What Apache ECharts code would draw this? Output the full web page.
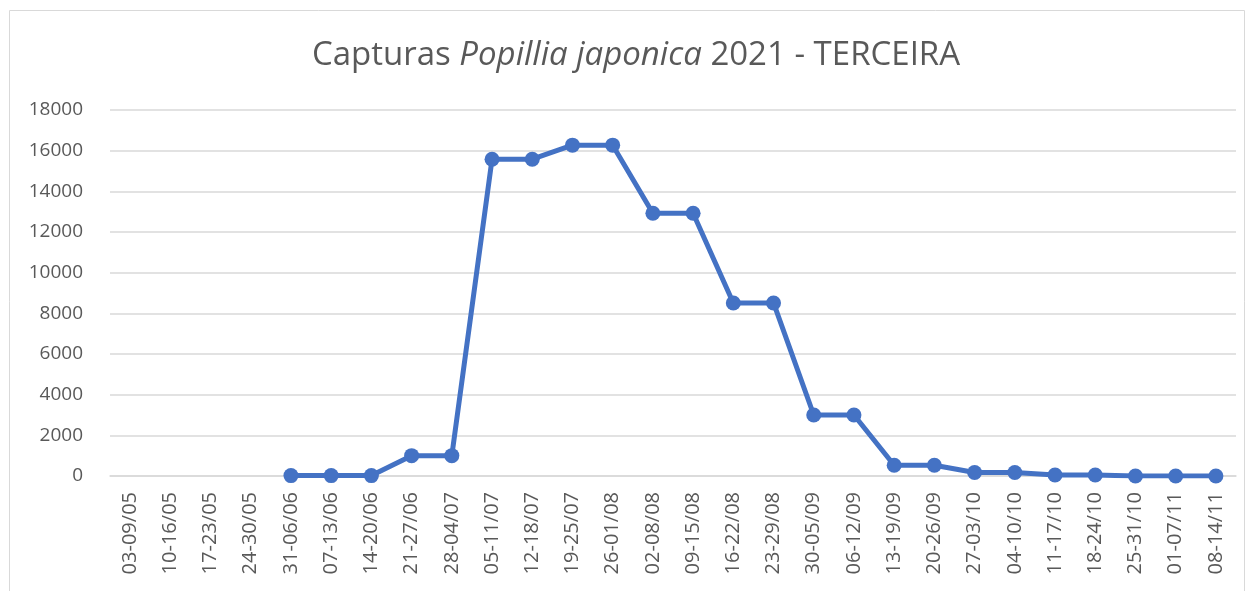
<!DOCTYPE html>
<html>
<head>
<meta charset="utf-8">
<script src="https://cdn.jsdelivr.net/npm/echarts@6/dist/echarts.min.js"></script>
<style>
  html, body { margin: 0; padding: 0; background: #fff; }
  #chart { width: 1253px; height: 591px; }
</style>
</head>
<body>
<div id="chart"></div>
<script>
const weeks = [
  "03-09/05", "10-16/05", "17-23/05", "24-30/05", "31-06/06", "07-13/06",
  "14-20/06", "21-27/06", "28-04/07", "05-11/07", "12-18/07", "19-25/07",
  "26-01/08", "02-08/08", "09-15/08", "16-22/08", "23-29/08", "30-05/09",
  "06-12/09", "13-19/09", "20-26/09", "27-03/10", "04-10/10", "11-17/10",
  "18-24/10", "25-31/10", "01-07/11", "08-14/11"
];
const captures = [
  null, null, null, null, 20, 20,
  20, 1000, 1000, 15580, 15580, 16270,
  16270, 12920, 12920, 8510, 8510, 3000,
  3000, 530, 530, 170, 170, 50,
  50, 0, 0, 0
];
const yTicks = [0, 2000, 4000, 6000, 8000, 10000, 12000, 14000, 16000, 18000];

const font = "'Open Sans', 'Noto Sans', sans-serif";
const grey = "#595959";

const chart = echarts.init(document.getElementById("chart"));

chart.setOption({
  animation: false,
  textStyle: { fontFamily: font },
  graphic: [
    {
      type: "rect",
      shape: { x: 9.5, y: 10.5, width: 1235, height: 600 },
      style: { fill: "none", stroke: "#d9d9d9", lineWidth: 1 },
    },
  ],
  title: {
    text: "{n|Capturas }{i|Popillia japonica}{n| 2021 - TERCEIRA}",
    left: 631,
    top: 34,
    textAlign: "center",
    textStyle: {
      rich: {
        n: { fontSize: 33, color: grey, fontFamily: font, fontWeight: "normal" },
        i: { fontSize: 33, color: grey, fontFamily: font, fontWeight: "normal", fontStyle: "italic" },
      },
    },
  },
  grid: { left: 110, right: 17, top: 110, bottom: 115 },
  xAxis: {
    type: "category",
    data: weeks,
    boundaryGap: true,
    axisLine: { show: true, lineStyle: { color: "#d9d9d9", width: 1.5 } },
    axisTick: { show: false },
    axisLabel: {
      rotate: 90,
      interval: 0,
      color: grey,
      fontSize: 20,
      margin: 16,
    },
  },
  yAxis: {
    type: "value",
    min: yTicks[0],
    max: yTicks[yTicks.length - 1],
    interval: 2000,
    axisLine: { show: false },
    axisTick: { show: false },
    axisLabel: { color: grey, fontSize: 19, margin: 27, formatter: (v) => String(v) },
    splitLine: { lineStyle: { color: "#d9d9d9", width: 1.5 } },
  },
  series: [
    {
      type: "line",
      data: captures,
      connectNulls: false,
      symbol: "circle",
      symbolSize: 15,
      lineStyle: { color: "#4472C4", width: 5 },
      itemStyle: { color: "#4472C4" },
    },
  ],
});
</script>
</body>
</html>
